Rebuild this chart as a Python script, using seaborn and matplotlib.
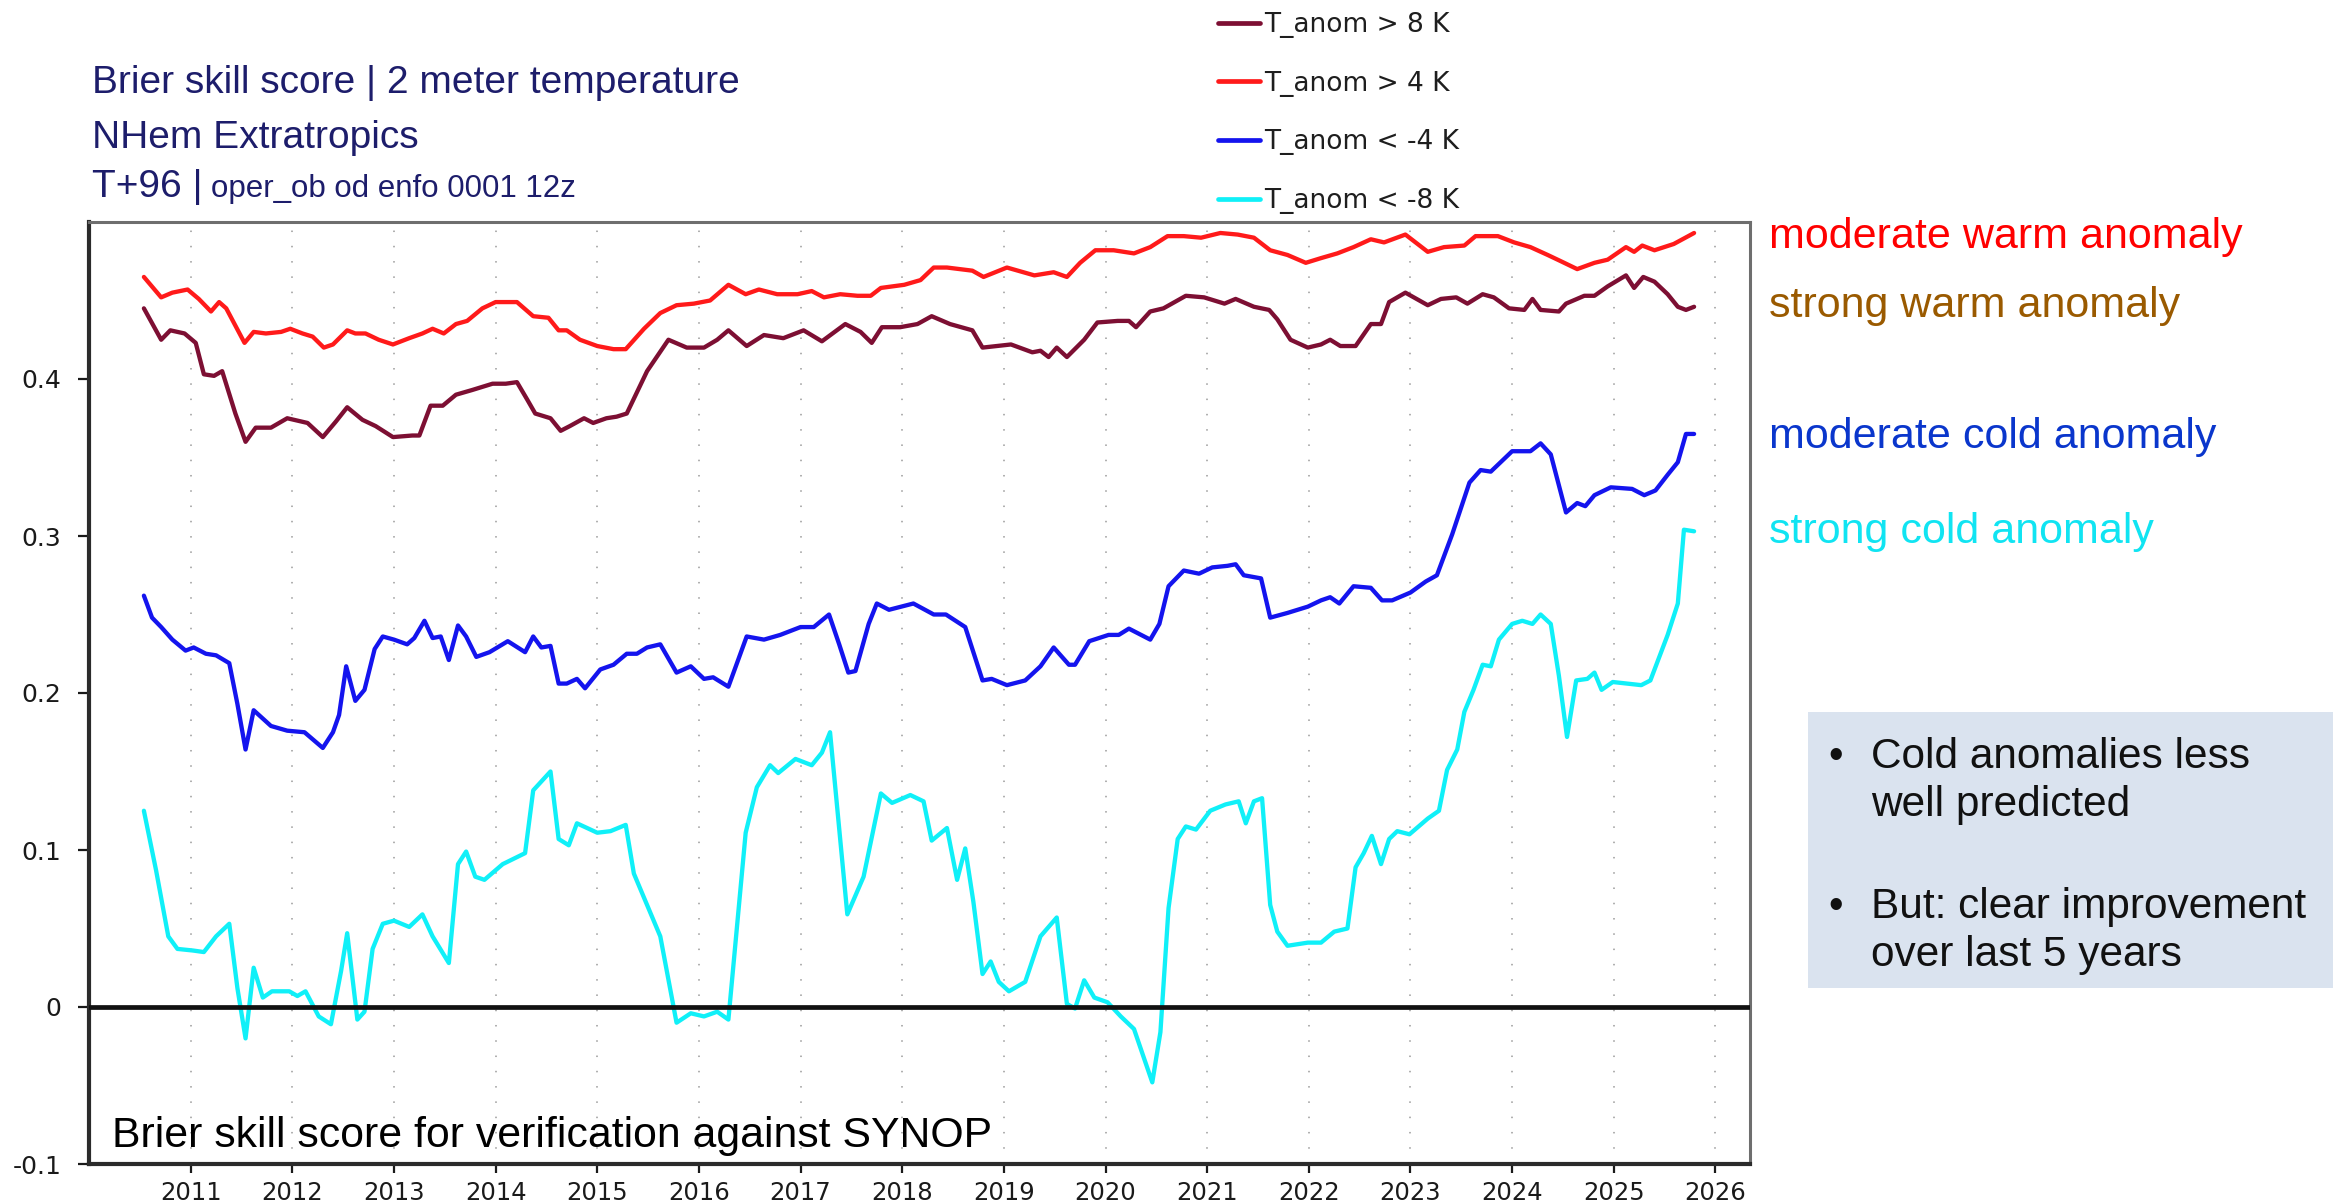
import pandas as pd
import seaborn as sns
import matplotlib.pyplot as plt

# Brier skill score, 2m temperature, NHem extratropics, T+96
warm8_x = [2010.54, 2010.71, 2010.80, 2010.94, 2011.05, 2011.13, 2011.23, 2011.31, 2011.44, 2011.54,
           2011.64, 2011.79, 2011.95, 2012.15, 2012.30, 2012.43, 2012.54, 2012.69, 2012.82, 2012.99,
           2013.18, 2013.25, 2013.36, 2013.48, 2013.61, 2013.77, 2013.97, 2014.10, 2014.21, 2014.31,
           2014.39, 2014.54, 2014.64, 2014.73, 2014.87, 2014.96, 2015.09, 2015.19, 2015.29, 2015.49,
           2015.70, 2015.88, 2016.05, 2016.18, 2016.29, 2016.47, 2016.64, 2016.83, 2017.03, 2017.21,
           2017.44, 2017.59, 2017.70, 2017.80, 2017.98, 2018.15, 2018.29, 2018.47, 2018.69, 2018.79,
           2018.93, 2019.07, 2019.28, 2019.36, 2019.44, 2019.52, 2019.62, 2019.79, 2019.92, 2020.12,
           2020.23, 2020.30, 2020.44, 2020.57, 2020.79, 2020.97, 2021.17, 2021.28, 2021.46, 2021.61,
           2021.69, 2021.82, 2021.99, 2022.12, 2022.21, 2022.31, 2022.46, 2022.61, 2022.71, 2022.79,
           2022.95, 2023.17, 2023.30, 2023.45, 2023.56, 2023.71, 2023.82, 2023.97, 2024.12, 2024.20,
           2024.28, 2024.46, 2024.53, 2024.71, 2024.81, 2024.94, 2025.12, 2025.20, 2025.29, 2025.40,
           2025.53, 2025.63, 2025.71, 2025.79]
warm8_y = [0.445, 0.425, 0.431, 0.429, 0.423, 0.403, 0.402, 0.405, 0.378, 0.360,
           0.369, 0.369, 0.375, 0.372, 0.363, 0.373, 0.382, 0.374, 0.370, 0.363,
           0.364, 0.364, 0.383, 0.383, 0.390, 0.393, 0.397, 0.397, 0.398, 0.387,
           0.378, 0.375, 0.367, 0.370, 0.375, 0.372, 0.375, 0.376, 0.378, 0.405,
           0.425, 0.420, 0.420, 0.425, 0.431, 0.421, 0.428, 0.426, 0.431, 0.424,
           0.435, 0.430, 0.423, 0.433, 0.433, 0.435, 0.440, 0.435, 0.431, 0.420,
           0.421, 0.422, 0.417, 0.418, 0.414, 0.420, 0.414, 0.425, 0.436, 0.437,
           0.437, 0.433, 0.443, 0.445, 0.453, 0.452, 0.448, 0.451, 0.446, 0.444,
           0.438, 0.425, 0.420, 0.422, 0.425, 0.421, 0.421, 0.435, 0.435, 0.449,
           0.455, 0.447, 0.451, 0.452, 0.448, 0.454, 0.452, 0.445, 0.444, 0.451,
           0.444, 0.443, 0.448, 0.453, 0.453, 0.459, 0.466, 0.458, 0.465, 0.462,
           0.454, 0.446, 0.444, 0.446]

warm4_x = [2010.54, 2010.71, 2010.82, 2010.97, 2011.08, 2011.20, 2011.28, 2011.35, 2011.53, 2011.62,
           2011.74, 2011.89, 2011.98, 2012.10, 2012.20, 2012.31, 2012.40, 2012.54, 2012.62, 2012.72,
           2012.85, 2012.99, 2013.15, 2013.28, 2013.38, 2013.49, 2013.61, 2013.72, 2013.87, 2014.00,
           2014.21, 2014.37, 2014.52, 2014.62, 2014.70, 2014.83, 2015.00, 2015.16, 2015.28, 2015.46,
           2015.62, 2015.78, 2015.95, 2016.11, 2016.29, 2016.46, 2016.59, 2016.77, 2016.97, 2017.11,
           2017.23, 2017.39, 2017.56, 2017.69, 2017.79, 2018.02, 2018.18, 2018.31, 2018.44, 2018.69,
           2018.80, 2019.03, 2019.30, 2019.49, 2019.62, 2019.75, 2019.90, 2020.08, 2020.28, 2020.44,
           2020.61, 2020.77, 2020.94, 2021.13, 2021.30, 2021.46, 2021.62, 2021.79, 2021.97, 2022.12,
           2022.28, 2022.44, 2022.61, 2022.74, 2022.95, 2023.17, 2023.33, 2023.53, 2023.64, 2023.86,
           2024.02, 2024.18, 2024.35, 2024.48, 2024.64, 2024.81, 2024.94, 2025.12, 2025.20, 2025.28,
           2025.40, 2025.59, 2025.79]
warm4_y = [0.465, 0.452, 0.455, 0.457, 0.451, 0.443, 0.449, 0.445, 0.423, 0.430,
           0.429, 0.430, 0.432, 0.429, 0.427, 0.420, 0.422, 0.431, 0.429, 0.429,
           0.425, 0.422, 0.426, 0.429, 0.432, 0.429, 0.435, 0.437, 0.445, 0.449,
           0.449, 0.440, 0.439, 0.431, 0.431, 0.425, 0.421, 0.419, 0.419, 0.432,
           0.442, 0.447, 0.448, 0.450, 0.460, 0.454, 0.457, 0.454, 0.454, 0.456,
           0.452, 0.454, 0.453, 0.453, 0.458, 0.460, 0.463, 0.471, 0.471, 0.469,
           0.465, 0.471, 0.466, 0.468, 0.465, 0.474, 0.482, 0.482, 0.480, 0.484,
           0.491, 0.491, 0.490, 0.493, 0.492, 0.490, 0.482, 0.479, 0.474, 0.477,
           0.480, 0.484, 0.489, 0.487, 0.492, 0.481, 0.484, 0.485, 0.491, 0.491,
           0.487, 0.484, 0.479, 0.475, 0.470, 0.474, 0.476, 0.484, 0.481, 0.485,
           0.482, 0.486, 0.493]

cold4_x = [2010.54, 2010.62, 2010.71, 2010.82, 2010.95, 2011.03, 2011.15, 2011.25, 2011.38, 2011.46,
           2011.54, 2011.62, 2011.79, 2011.95, 2012.12, 2012.30, 2012.40, 2012.46, 2012.53, 2012.62,
           2012.71, 2012.81, 2012.89, 2013.00, 2013.13, 2013.20, 2013.30, 2013.38, 2013.46, 2013.54,
           2013.63, 2013.71, 2013.81, 2013.94, 2014.12, 2014.29, 2014.37, 2014.45, 2014.54, 2014.62,
           2014.70, 2014.80, 2014.88, 2015.03, 2015.16, 2015.29, 2015.39, 2015.49, 2015.62, 2015.78,
           2015.92, 2016.05, 2016.14, 2016.29, 2016.47, 2016.64, 2016.80, 2017.00, 2017.13, 2017.28,
           2017.38, 2017.47, 2017.54, 2017.67, 2017.75, 2017.87, 2018.11, 2018.31, 2018.43, 2018.62,
           2018.79, 2018.88, 2019.03, 2019.21, 2019.36, 2019.49, 2019.64, 2019.70, 2019.84, 2020.03,
           2020.13, 2020.23, 2020.44, 2020.53, 2020.62, 2020.77, 2020.92, 2021.05, 2021.20, 2021.28,
           2021.36, 2021.53, 2021.62, 2021.79, 2021.99, 2022.12, 2022.21, 2022.30, 2022.44, 2022.61,
           2022.72, 2022.82, 2023.00, 2023.15, 2023.26, 2023.41, 2023.58, 2023.69, 2023.79, 2024.00,
           2024.18, 2024.28, 2024.38, 2024.53, 2024.64, 2024.72, 2024.81, 2024.97, 2025.18, 2025.30,
           2025.41, 2025.53, 2025.63, 2025.71, 2025.79]
cold4_y = [0.262, 0.248, 0.242, 0.234, 0.227, 0.229, 0.225, 0.224, 0.219, 0.193,
           0.164, 0.189, 0.179, 0.176, 0.175, 0.165, 0.175, 0.186, 0.217, 0.195,
           0.202, 0.228, 0.236, 0.234, 0.231, 0.235, 0.246, 0.235, 0.236, 0.221,
           0.243, 0.236, 0.223, 0.226, 0.233, 0.226, 0.236, 0.229, 0.230, 0.206,
           0.206, 0.209, 0.203, 0.215, 0.218, 0.225, 0.225, 0.229, 0.231, 0.213,
           0.217, 0.209, 0.210, 0.204, 0.236, 0.234, 0.237, 0.242, 0.242, 0.250,
           0.231, 0.213, 0.214, 0.244, 0.257, 0.253, 0.257, 0.250, 0.250, 0.242,
           0.208, 0.209, 0.205, 0.208, 0.217, 0.229, 0.218, 0.218, 0.233, 0.237,
           0.237, 0.241, 0.234, 0.244, 0.268, 0.278, 0.276, 0.280, 0.281, 0.282,
           0.275, 0.273, 0.248, 0.251, 0.255, 0.259, 0.261, 0.257, 0.268, 0.267,
           0.259, 0.259, 0.264, 0.271, 0.275, 0.301, 0.334, 0.342, 0.341, 0.354,
           0.354, 0.359, 0.352, 0.315, 0.321, 0.319, 0.326, 0.331, 0.330, 0.326,
           0.329, 0.339, 0.347, 0.365, 0.365]

cold8_x = [2010.54, 2010.66, 2010.78, 2010.87, 2011.02, 2011.13, 2011.25, 2011.38, 2011.46, 2011.54,
           2011.62, 2011.71, 2011.80, 2011.97, 2012.05, 2012.13, 2012.26, 2012.38, 2012.48, 2012.54,
           2012.64, 2012.71, 2012.79, 2012.89, 2013.00, 2013.15, 2013.28, 2013.38, 2013.54, 2013.63,
           2013.71, 2013.80, 2013.89, 2014.07, 2014.29, 2014.37, 2014.54, 2014.62, 2014.72, 2014.80,
           2015.00, 2015.13, 2015.28, 2015.36, 2015.49, 2015.62, 2015.78, 2015.92, 2016.05, 2016.18,
           2016.29, 2016.46, 2016.57, 2016.70, 2016.78, 2016.95, 2017.11, 2017.21, 2017.29, 2017.46,
           2017.62, 2017.79, 2017.90, 2018.08, 2018.21, 2018.29, 2018.44, 2018.54, 2018.62, 2018.70,
           2018.79, 2018.87, 2018.95, 2019.05, 2019.21, 2019.36, 2019.52, 2019.62, 2019.70, 2019.79,
           2019.89, 2020.02, 2020.15, 2020.28, 2020.46, 2020.54, 2020.62, 2020.71, 2020.79, 2020.89,
           2021.03, 2021.18, 2021.31, 2021.38, 2021.46, 2021.54, 2021.62, 2021.69, 2021.79, 2021.99,
           2022.12, 2022.25, 2022.38, 2022.46, 2022.54, 2022.62, 2022.71, 2022.79, 2022.87, 2022.99,
           2023.17, 2023.28, 2023.36, 2023.46, 2023.53, 2023.62, 2023.71, 2023.79, 2023.87, 2024.00,
           2024.10, 2024.20, 2024.28, 2024.38, 2024.46, 2024.54, 2024.63, 2024.74, 2024.81, 2024.88,
           2024.99, 2025.27, 2025.36, 2025.53, 2025.63, 2025.69, 2025.79]
cold8_y = [0.125, 0.087, 0.045, 0.037, 0.036, 0.035, 0.045, 0.053, 0.012, -0.020,
           0.025, 0.006, 0.010, 0.010, 0.007, 0.010, -0.006, -0.011, 0.023, 0.047,
           -0.008, -0.003, 0.037, 0.053, 0.055, 0.051, 0.059, 0.045, 0.028, 0.091,
           0.099, 0.083, 0.081, 0.091, 0.098, 0.138, 0.150, 0.107, 0.103, 0.117,
           0.111, 0.112, 0.116, 0.085, 0.065, 0.045, -0.010, -0.004, -0.006, -0.003,
           -0.008, 0.111, 0.140, 0.154, 0.149, 0.158, 0.154, 0.162, 0.175, 0.059,
           0.083, 0.136, 0.130, 0.135, 0.131, 0.106, 0.114, 0.081, 0.101, 0.067,
           0.021, 0.029, 0.016, 0.010, 0.016, 0.045, 0.057, 0.002, -0.001, 0.017,
           0.006, 0.003, -0.006, -0.014, -0.048, -0.016, 0.063, 0.107, 0.115, 0.113,
           0.125, 0.129, 0.131, 0.117, 0.131, 0.133, 0.065, 0.048, 0.039, 0.041,
           0.041, 0.048, 0.050, 0.089, 0.098, 0.109, 0.091, 0.107, 0.112, 0.110,
           0.120, 0.125, 0.151, 0.164, 0.188, 0.202, 0.218, 0.217, 0.234, 0.244,
           0.246, 0.244, 0.250, 0.244, 0.211, 0.172, 0.208, 0.209, 0.213, 0.202,
           0.207, 0.205, 0.208, 0.237, 0.257, 0.304, 0.303]

series_names = ["T_anom > 8 K", "T_anom > 4 K", "T_anom < -4 K", "T_anom < -8 K"]
series_colors = ["#7d0f33", "#ff1a1a", "#1414ee", "#10f0f8"]

year_ticks = list(range(2011, 2027))
y_ticks = [-0.1, 0.0, 0.1, 0.2, 0.3, 0.4]
y_tick_labels = ["-0.1", "0", "0.1", "0.2", "0.3", "0.4"]

side_labels = ["moderate warm anomaly", "strong warm anomaly", "moderate cold anomaly", "strong cold anomaly"]
side_colors = ["#ff0000", "#9a5a00", "#0a36cc", "#10e4f2"]

bullet_lines = [["Cold anomalies less", "well predicted"],
                ["But: clear improvement", "over last 5 years"]]

# long-form table for seaborn
frames = []
for name, xs, ys in zip(series_names,
                        [warm8_x, warm4_x, cold4_x, cold8_x],
                        [warm8_y, warm4_y, cold4_y, cold8_y]):
    frames.append(pd.DataFrame({"year": xs, "bss": ys, "series": name}))
df = pd.concat(frames, ignore_index=True)

sns.set_style("ticks")
plt.rcParams["font.family"] = ["DejaVu Sans"]

W, H = 2333, 1203
fig = plt.figure(figsize=(W / 100, H / 100), dpi=100)
ax = fig.add_axes([89 / W, (H - 1164) / H, (1750 - 89) / W, (1164 - 222) / H])

sns.lineplot(data=df, x="year", y="bss", hue="series", hue_order=series_names,
             palette=series_colors, estimator=None, sort=False, linewidth=3.1, ax=ax)

ax.axhline(0, color="#111111", linewidth=3.4, zorder=5)

ax.set_xlim(2010.0, 2026.34)
ax.set_ylim(-0.1, 0.5)
ax.set_xticks(year_ticks)
ax.set_xticklabels([str(y) for y in year_ticks])
ax.set_yticks(y_ticks)
ax.set_yticklabels(y_tick_labels)
ax.set_xlabel("")
ax.set_ylabel("")

ax.grid(axis="x", linestyle=(0, (1, 9)), color="#9a9a9a", linewidth=1.1)
ax.set_axisbelow(True)

ax.tick_params(axis="x", length=6.5, width=1.6, pad=6, labelsize=17.5, color="#1a1a1a", labelcolor="#1a1a1a")
ax.tick_params(axis="y", length=8, width=1.6, pad=12, labelsize=18, color="#1a1a1a", labelcolor="#1a1a1a")

for side in ["left", "bottom"]:
    ax.spines[side].set_color("#2b2b2b")
    ax.spines[side].set_linewidth(3)
for side in ["top", "right"]:
    ax.spines[side].set_color("#6e6e6e")
    ax.spines[side].set_linewidth(2.2)

# legend above the plot
leg = ax.legend(loc="upper left", bbox_to_anchor=(1218 / W, 1 - 12 / H),
                bbox_transform=fig.transFigure, frameon=False, fontsize=19,
                handlelength=1.6, handletextpad=0.15, labelspacing=1.24,
                borderpad=0, borderaxespad=0)
for t in leg.get_texts():
    t.set_color("#1e1e1e")
for h in leg.get_lines():
    h.set_linewidth(3.4)

# chart headings
navy = "#1d1d6b"
fig.text(92 / W, 1 - 93 / H, "Brier skill score | 2 meter temperature", fontsize=28,
         color=navy, family="Liberation Sans", va="baseline")
fig.text(92 / W, 1 - 148 / H, "NHem Extratropics", fontsize=28,
         color=navy, family="Liberation Sans", va="baseline")
fig.text(92 / W, 1 - 197 / H, "T+96 |", fontsize=28,
         color=navy, family="Liberation Sans", va="baseline")
fig.text(211 / W, 1 - 197 / H, "oper_ob od enfo 0001 12z", fontsize=22.5,
         color=navy, family="Liberation Sans", va="baseline")

ax.text(0.014, 0.018, "Brier skill score for verification against SYNOP", transform=ax.transAxes,
        fontsize=30.8, color="black", family="Liberation Sans", va="baseline")

# labels to the right of the plot
for label, color, base in zip(side_labels, side_colors, [248, 317, 448, 543]):
    fig.text(1769 / W, 1 - base / H, label, fontsize=31, color=color,
             family="Liberation Sans", va="baseline")

# note box
fig.patches.append(plt.Rectangle((1808 / W, 1 - 988 / H), (W - 1808) / W, (988 - 712) / H,
                                 transform=fig.transFigure, facecolor="#dae3ef",
                                 edgecolor="none", zorder=0))
for lines, bases in zip(bullet_lines, [[768, 816], [918, 966]]):
    fig.text(1836 / W, 1 - bases[0] / H, "\u2022", fontsize=30, color="#111111",
             family="Liberation Sans", va="baseline", ha="center")
    for line, base in zip(lines, bases):
        fig.text(1871 / W, 1 - base / H, line, fontsize=30.5, color="#111111",
                 family="Liberation Sans", va="baseline")

fig.savefig("out.png", dpi=100)
